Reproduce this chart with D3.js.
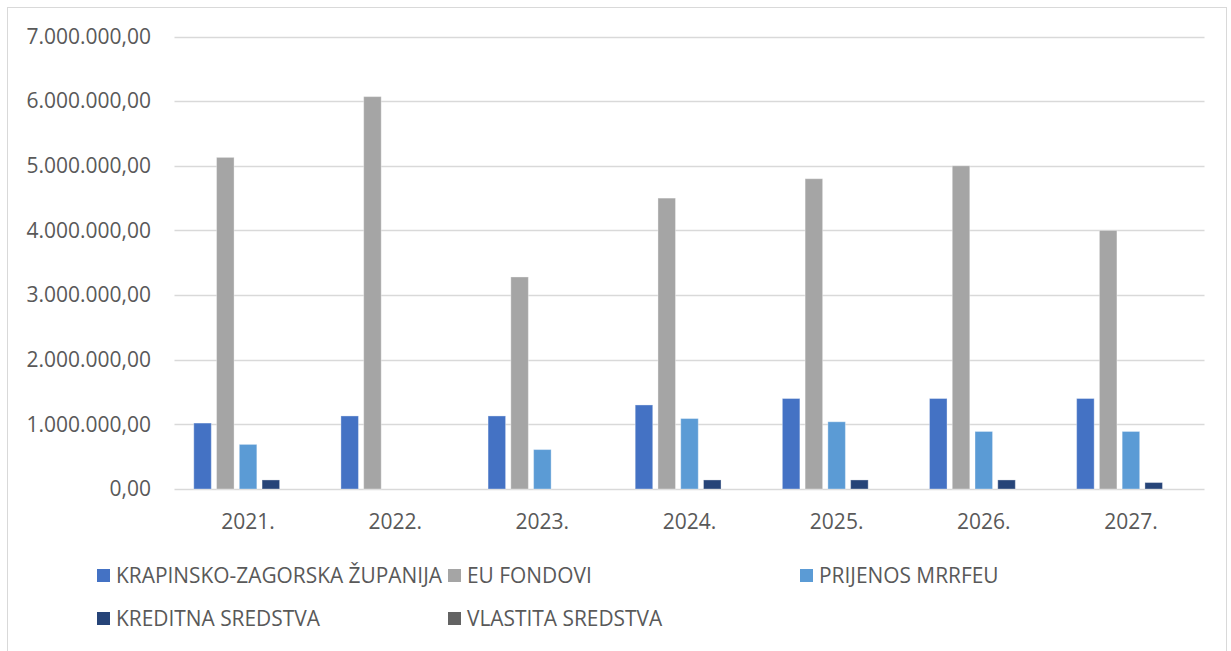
<!DOCTYPE html>
<html>
<head>
<meta charset="utf-8">
<script src="https://cdn.jsdelivr.net/npm/d3@7"></script>
<style>
  body { margin: 0; background: #fff; }
  svg text { font-family: "Open Sans", sans-serif; fill: #595959; }
</style>
</head>
<body>
<div id="chart"></div>
<script>
// data
var years = ["2021.", "2022.", "2023.", "2024.", "2025.", "2026.", "2027."];
var seriesNames = ["KRAPINSKO-ZAGORSKA ŽUPANIJA", "EU FONDOVI", "PRIJENOS MRRFEU", "KREDITNA SREDSTVA", "VLASTITA SREDSTVA"];
var zupanija = [1020000, 1130000, 1130000, 1300000, 1400000, 1400000, 1400000];
var euFondovi = [5130000, 6070000, 3280000, 4500000, 4800000, 5000000, 4000000];
var prijenos = [690000, 0, 610000, 1090000, 1040000, 890000, 890000];
var kreditna = [140000, 0, 0, 140000, 140000, 140000, 100000];
var vlastita = [0, 0, 0, 0, 0, 0, 0];
var yTicks = [0, 1000000, 2000000, 3000000, 4000000, 5000000, 6000000, 7000000];
var colors = ["#4472C4", "#A5A5A5", "#5B9BD5", "#264478", "#636363"];

var allSeries = [zupanija, euFondovi, prijenos, kreditna, vlastita];

var width = 1231, height = 651;
var plot = {left: 174.5, right: 1204.5, top: 36.5, bottom: 489};

var svg = d3.select("#chart").append("svg")
    .attr("width", width)
    .attr("height", height);

// chart border
svg.append("rect")
    .attr("x", 7.5).attr("y", 7.5)
    .attr("width", 1219).attr("height", 670)
    .attr("fill", "none").attr("stroke", "#d9d9d9").attr("stroke-width", 1);

var x0 = d3.scaleBand().domain(years)
    .range([plot.left, plot.right])
    .paddingInner(0.262).paddingOuter(0.131);

var x1 = d3.scaleBand().domain(d3.range(seriesNames.length))
    .range([0, x0.bandwidth()])
    .paddingInner(0.23).paddingOuter(0);

var y = d3.scaleLinear().domain([0, 7000000]).range([plot.bottom, plot.top]);

var fmt = function(v){
  var s = d3.format(",.2f")(v);
  return s.replace(/,/g, "#").replace(".", ",").replace(/#/g, ".");
};

// gridlines
svg.append("g").selectAll("line")
  .data(yTicks).enter()
  .append("line")
  .attr("x1", plot.left).attr("x2", plot.right)
  .attr("y1", function(d){ return Math.round(y(d)) + 0.5; })
  .attr("y2", function(d){ return Math.round(y(d)) + 0.5; })
  .attr("stroke", "#d9d9d9").attr("stroke-width", 1.4);

// y labels
svg.append("g").selectAll("text")
  .data(yTicks).enter()
  .append("text")
  .attr("x", 151)
  .attr("y", function(d){ return y(d); })
  .attr("dy", "0.35em")
  .attr("text-anchor", "end")
  .style("font-size", "21px")
  .text(fmt);

// bars
var groups = svg.append("g").selectAll("g")
  .data(years).enter()
  .append("g")
  .attr("transform", function(d){ return "translate(" + x0(d) + ",0)"; });

groups.selectAll("rect")
  .data(function(d, i){ return allSeries.map(function(s, k){ return {k: k, v: s[i]}; }); })
  .enter()
  .filter(function(d){ return d.v > 0; })
  .append("rect")
  .attr("x", function(d){ return x1(d.k); })
  .attr("width", x1.bandwidth())
  .attr("y", function(d){ return y(d.v); })
  .attr("height", function(d){ return y(0) - y(d.v); })
  .attr("fill", function(d){ return colors[d.k]; })
  .attr("stroke", "#fff").attr("stroke-opacity", 0.35).attr("stroke-width", 1);

// x labels
svg.append("g").selectAll("text")
  .data(years).enter()
  .append("text")
  .attr("x", function(d){ return x0(d) + x0.bandwidth() / 2; })
  .attr("y", 529)
  .attr("text-anchor", "middle")
  .style("font-size", "21px")
  .text(function(d){ return d; });

// legend
var legendPos = [[97, 576], [448, 576], [800, 576], [97, 619], [448, 619]];
var legend = svg.append("g").selectAll("g")
  .data(seriesNames).enter()
  .append("g")
  .attr("transform", function(d, i){ return "translate(" + legendPos[i][0] + "," + legendPos[i][1] + ")"; });

legend.append("rect")
  .attr("x", 0).attr("y", -7)
  .attr("width", 13).attr("height", 13)
  .attr("fill", function(d, i){ return colors[i]; });

legend.append("text")
  .attr("x", 19).attr("y", 0)
  .attr("dy", "0.35em")
  .style("font-size", "20.9px")
  .text(function(d){ return d; });
</script>
</body>
</html>
